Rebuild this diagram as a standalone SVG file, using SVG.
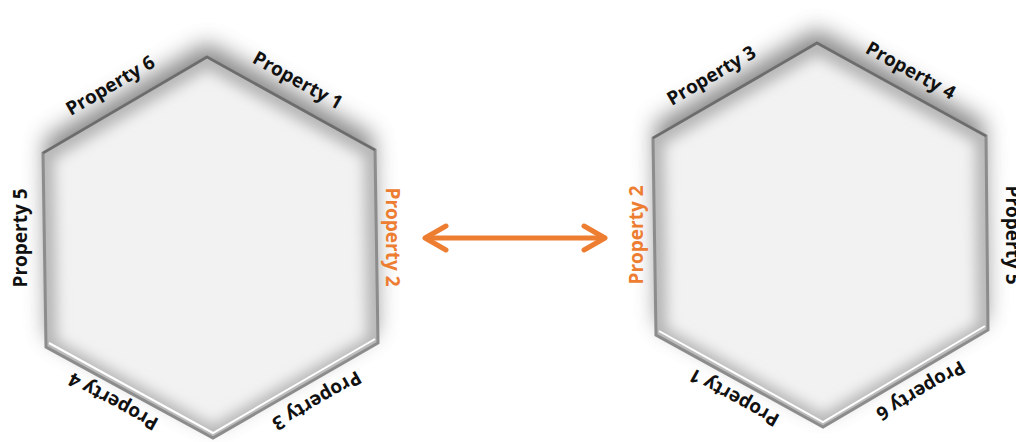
<svg xmlns="http://www.w3.org/2000/svg" width="1016" height="442" viewBox="0 0 1016 442">
  <style>
    .lbl { font-family: "Open Sans", "Liberation Sans", sans-serif; font-weight: 700; font-size: 19px; fill: #111; text-anchor: middle; dominant-baseline: central; }
    .lbl.hot { fill: #ED7D31; }
    .shadow { fill: #6a6a6a; filter: url(#soft); opacity: 0.8; }
    .face { fill: #f2f2f2; }
    .glow { fill: none; stroke: #b5b5b5; stroke-width: 22; filter: url(#glowBlur); }
    .rim { fill: none; stroke: #8c8c8c; stroke-width: 3; stroke-linejoin: miter; }
    .rimTop { fill: none; stroke: #6c6c6c; stroke-width: 2.5; }
    .rimLow { fill: none; stroke: #ffffff; stroke-width: 2; }
    .link { stroke: #ED7D31; stroke-width: 5; fill: none; }
  </style>
  <defs>
    <filter id="soft" x="-20%" y="-20%" width="140%" height="140%">
      <feGaussianBlur stdDeviation="11"/>
    </filter>
    <filter id="glowBlur" x="-20%" y="-20%" width="140%" height="140%">
      <feGaussianBlur stdDeviation="7"/>
    </filter>
    <clipPath id="clipA">
      <polygon points="207,57 375,150 378,343 213,438 46,347 43,153"/>
    </clipPath>
    <clipPath id="clipB">
      <polygon points="817,43 986,136 988,330 823,427 656,335 653,138"/>
    </clipPath>
    <marker id="chev" viewBox="-26 -15 30 30" refX="0" refY="0" markerWidth="30" markerHeight="30" markerUnits="userSpaceOnUse" orient="auto-start-reverse">
      <path d="M-21,-12 L0,0 L-21,12" fill="none" stroke="#ED7D31" stroke-width="5" stroke-linecap="round" stroke-linejoin="round"/>
    </marker>
  </defs>

  <rect width="1016" height="442" fill="#ffffff"/>

  <!-- left hexagon -->
  <g id="hexA">
    <polygon class="shadow" points="207,43 373,136 376,331 213,424 48,335 45,139"/>
    <polygon class="face" points="207,57 375,150 378,343 213,438 46,347 43,153"/>
    <polygon class="glow" clip-path="url(#clipA)" points="207,57 375,150 378,343 213,438 46,347 43,153"/>
    <polygon class="rim" points="207,57 375,150 378,343 213,438 46,347 43,153"/>
    <polyline class="rimTop" points="43,153 207,57 375,150"/>
    <polyline class="rimLow" points="49,343 213,433 375,339"/>
    <text class="lbl" transform="translate(110,85) rotate(-30.3)">Property 6</text>
    <text class="lbl" transform="translate(298,80) rotate(29)">Property 1</text>
    <text class="lbl" transform="translate(20,238) rotate(-90)">Property 5</text>
    <text class="lbl hot" transform="translate(393,237) rotate(90)">Property 2</text>
    <text class="lbl" transform="translate(113,402) rotate(208.6)">Property 4</text>
    <text class="lbl" transform="translate(317,401) rotate(150.1)">Property 3</text>
  </g>

  <!-- right hexagon -->
  <g id="hexB">
    <polygon class="shadow" points="817,29 984,122 986,318 823,413 658,323 655,124"/>
    <polygon class="face" points="817,43 986,136 988,330 823,427 656,335 653,138"/>
    <polygon class="glow" clip-path="url(#clipB)" points="817,43 986,136 988,330 823,427 656,335 653,138"/>
    <polygon class="rim" points="817,43 986,136 988,330 823,427 656,335 653,138"/>
    <polyline class="rimTop" points="653,138 817,43 986,136"/>
    <polyline class="rimLow" points="659,331 823,422 985,326"/>
    <text class="lbl" transform="translate(711,75) rotate(-30.1)">Property 3</text>
    <text class="lbl" transform="translate(911,70) rotate(28.8)">Property 4</text>
    <text class="lbl hot" transform="translate(636,235) rotate(-90)">Property 2</text>
    <text class="lbl" transform="translate(1013,235) rotate(90)">Property 5</text>
    <text class="lbl" transform="translate(734,398) rotate(208.9)">Property 1</text>
    <text class="lbl" transform="translate(921,391) rotate(149.6)">Property 6</text>
  </g>

  <!-- connectors -->
  <g id="connectors">
    <line class="link" x1="425" y1="238" x2="605" y2="238" marker-start="url(#chev)" marker-end="url(#chev)"/>
  </g>
</svg>
